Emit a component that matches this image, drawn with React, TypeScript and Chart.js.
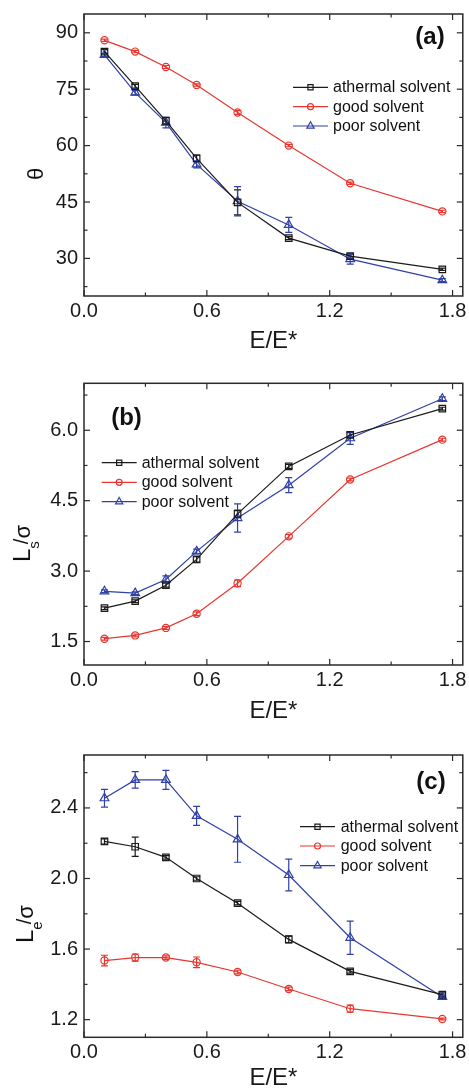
import React, { useEffect, useRef } from 'react';
import { Chart, registerables } from 'chart.js';

Chart.register(...registerables);

const FONT = 'Arial, "Liberation Sans", Helvetica, sans-serif';

// ---------- data ----------
const eRatio = [0.1, 0.25, 0.4, 0.55, 0.75, 1.0, 1.3, 1.75];
const xTickValues = [0, 0.6, 1.2, 1.8];
const seriesLabels = ['athermal solvent', 'good solvent', 'poor solvent'];

// (a) contact angle theta
const thetaAthermal = [85.0, 75.8, 66.6, 56.6, 44.9, 35.4, 30.6, 27.1];
const thetaAthermalErr = [0.5, 0.5, 0.9, 0.9, 3.3, 0.4, 0.6, 0.3];
const thetaGood = [88.0, 85.0, 80.9, 76.1, 68.8, 60.0, 50.0, 42.5];
const thetaGoodErr = [0.3, 0.3, 0.4, 0.3, 0.5, 0.3, 0.3, 0.3];
const thetaPoor = [84.1, 74.1, 66.1, 55.0, 45.2, 38.9, 29.8, 24.2];
const thetaPoorErr = [0.4, 0.6, 1.4, 0.9, 3.9, 2.0, 1.3, 0.4];
const thetaTicks = [30, 45, 60, 75, 90];

// (b) Ls / sigma
const lsAthermal = [2.21, 2.36, 2.70, 3.25, 4.22, 5.23, 5.90, 6.46];
const lsAthermalErr = [0.03, 0.03, 0.04, 0.06, 0.08, 0.04, 0.05, 0.03];
const lsGood = [1.56, 1.63, 1.79, 2.09, 2.74, 3.74, 4.95, 5.80];
const lsGoodErr = [0.03, 0.03, 0.03, 0.04, 0.07, 0.04, 0.03, 0.03];
const lsPoor = [2.57, 2.53, 2.82, 3.42, 4.13, 4.83, 5.83, 6.67];
const lsPoorErr = [0.03, 0.03, 0.08, 0.05, 0.30, 0.16, 0.13, 0.04];
const lsTicks = [1.5, 3.0, 4.5, 6.0];

// (c) Le / sigma
const leAthermal = [2.21, 2.18, 2.12, 2.00, 1.86, 1.655, 1.474, 1.342];
const leAthermalErr = [0.015, 0.054, 0.01, 0.01, 0.01, 0.02, 0.01, 0.01];
const leGood = [1.535, 1.552, 1.552, 1.525, 1.47, 1.374, 1.262, 1.204];
const leGoodErr = [0.03, 0.02, 0.01, 0.03, 0.01, 0.01, 0.02, 0.005];
const lePoor = [2.455, 2.559, 2.559, 2.355, 2.222, 2.02, 1.664, 1.329];
const lePoorErr = [0.05, 0.047, 0.054, 0.054, 0.13, 0.09, 0.094, 0.01];
const leTicks = [1.2, 1.6, 2.0, 2.4];

// ---------- styles ----------
const COLORS = ['#1a1a1a', '#e8372f', '#2f40a6'];
const STYLES = ['rect', 'circle', 'triangle'];
const RADII = [4.6, 3.6, 5.0];
const LEGEND_R = [2.6, 3.0, 4.2];

function drawMarker(ctx: CanvasRenderingContext2D, style: string, x: number, y: number, r: number) {
  ctx.beginPath();
  if (style === 'rect') ctx.rect(x - r, y - r, 2 * r, 2 * r);
  else if (style === 'circle') ctx.arc(x, y, r, 0, Math.PI * 2);
  else {
    ctx.moveTo(x, y - r);
    ctx.lineTo(x + r * 0.866, y + r * 0.5);
    ctx.lineTo(x - r * 0.866, y + r * 0.5);
    ctx.closePath();
  }
  ctx.stroke();
}

const decorPlugin = {
  id: 'decor',
  beforeDatasetsDraw(chart: any) {
    const ctx = chart.ctx as CanvasRenderingContext2D;
    const xs = chart.scales.x, ys = chart.scales.y;
    ctx.save();
    chart.data.datasets.forEach((ds: any) => {
      const errs: number[] = ds.errorBars || [];
      ctx.strokeStyle = ds.borderColor;
      ctx.lineWidth = 1.2;
      ds.data.forEach((p: any, i: number) => {
        const e = errs[i] || 0;
        if (!e) return;
        const px = xs.getPixelForValue(p.x);
        const y1 = ys.getPixelForValue(p.y + e);
        const y2 = ys.getPixelForValue(p.y - e);
        const cap = 3.5;
        ctx.beginPath();
        ctx.moveTo(px, y1); ctx.lineTo(px, y2);
        ctx.moveTo(px - cap, y1); ctx.lineTo(px + cap, y1);
        ctx.moveTo(px - cap, y2); ctx.lineTo(px + cap, y2);
        ctx.stroke();
      });
    });
    ctx.restore();
  },
  afterDraw(chart: any, _args: any, opts: any) {
    const ctx = chart.ctx as CanvasRenderingContext2D;
    const { left, right, top, bottom } = chart.chartArea;
    const xs = chart.scales.x, ys = chart.scales.y;
    const MAJ = 6, MIN = 3.5;
    ctx.save();
    // frame
    ctx.strokeStyle = '#2a2a2a';
    ctx.lineWidth = 1.5;
    ctx.strokeRect(left, top, right - left, bottom - top);
    ctx.lineWidth = 1.2;
    const line = (x1: number, y1: number, x2: number, y2: number) => {
      ctx.beginPath(); ctx.moveTo(x1, y1); ctx.lineTo(x2, y2); ctx.stroke();
    };
    // major ticks (inward, mirrored)
    xs.ticks.forEach((t: any) => {
      const px = xs.getPixelForValue(t.value);
      line(px, bottom, px, bottom - MAJ);
      line(px, top, px, top + MAJ);
    });
    ys.ticks.forEach((t: any) => {
      const py = ys.getPixelForValue(t.value);
      line(left, py, left + MAJ, py);
      line(right, py, right - MAJ, py);
    });
    // minor ticks
    const minors = (scale: any, step: number, majors: number[]) => {
      const out: number[] = [];
      const start = Math.ceil(scale.min / step - 1e-6);
      for (let k = start; k * step <= scale.max + 1e-9; k++) {
        const v = k * step;
        if (!majors.some((m) => Math.abs(m - v) < 1e-6)) out.push(v);
      }
      return out;
    };
    minors(xs, opts.xMinorStep, xs.ticks.map((t: any) => t.value)).forEach((v) => {
      const px = xs.getPixelForValue(v);
      line(px, bottom, px, bottom - MIN);
      line(px, top, px, top + MIN);
    });
    minors(ys, opts.yMinorStep, ys.ticks.map((t: any) => t.value)).forEach((v) => {
      const py = ys.getPixelForValue(v);
      line(left, py, left + MIN, py);
      line(right, py, right - MIN, py);
    });

    // legend
    const lg = opts.legend;
    ctx.font = `16px ${FONT}`;
    ctx.textBaseline = 'middle';
    ctx.textAlign = 'left';
    chart.data.datasets.forEach((ds: any, i: number) => {
      const y = lg.rows[i];
      ctx.strokeStyle = ds.borderColor;
      ctx.lineWidth = 1.2;
      line(lg.x0, y, lg.x1, y);
      drawMarker(ctx, ds.pointStyle, (lg.x0 + lg.x1) / 2, y, LEGEND_R[i]);
      ctx.fillStyle = '#111';
      ctx.fillText(ds.label, lg.textX, y + 0.5);
    });

    // panel label
    const pl = opts.panelLabel;
    ctx.font = `bold 24px ${FONT}`;
    ctx.fillStyle = '#111';
    ctx.textAlign = 'center';
    ctx.textBaseline = 'middle';
    ctx.fillText(pl.text, pl.x, pl.y);
    ctx.restore();
  },
};

function makeDatasets(vals: number[][], errs: number[][]) {
  return vals.map((v, i) => ({
    label: seriesLabels[i],
    data: eRatio.map((x, j) => ({ x, y: v[j] })),
    errorBars: errs[i],
    borderColor: COLORS[i],
    backgroundColor: 'rgba(0,0,0,0)',
    borderWidth: 1.2,
    pointStyle: STYLES[i],
    pointRadius: RADII[i],
    pointBorderWidth: 1.2,
    pointBorderColor: COLORS[i],
    pointBackgroundColor: 'rgba(0,0,0,0)',
    tension: 0,
    fill: false,
  }));
}

const panels = [
  {
    top: 0, height: 363, areaTop: 14, xAxisHeight: 67,
    yMin: 20, yMax: 95, yTicks: thetaTicks, yDecimals: 0, yMinorStep: 7.5,
    datasets: makeDatasets([thetaAthermal, thetaGood, thetaPoor], [thetaAthermalErr, thetaGoodErr, thetaPoorErr]),
    legend: { x0: 293, x1: 328, textX: 333, rows: [87.3, 106.7, 126] },
    panelLabel: { text: '(a)', x: 430, y: 37.5 },
    yTitle: { left: 24.5, top: 180, main: 'θ', mainSize: 22, sub: '', },
  },
  {
    top: 363, height: 370, areaTop: 20.3, xAxisHeight: 68,
    yMin: 1.0, yMax: 7.0, yTicks: lsTicks, yDecimals: 1, yMinorStep: 0.75,
    datasets: makeDatasets([lsAthermal, lsGood, lsPoor], [lsAthermalErr, lsGoodErr, lsPoorErr]),
    legend: { x0: 101.7, x1: 136.7, textX: 141.7, rows: [99.7, 119.3, 138.7] },
    panelLabel: { text: '(b)', x: 126.5, y: 55 },
    yTitle: { left: 9.7, top: 199, main: 'L', mainSize: 24, sub: 's' },
  },
  {
    top: 733, height: 367, areaTop: 22, xAxisHeight: 62.7,
    yMin: 1.1, yMax: 2.7, yTicks: leTicks, yDecimals: 1, yMinorStep: 0.2,
    datasets: makeDatasets([leAthermal, leGood, lePoor], [leAthermalErr, leGoodErr, lePoorErr]),
    legend: { x0: 300, x1: 335, textX: 340.7, rows: [93.7, 113, 132.7] },
    panelLabel: { text: '(c)', x: 431, y: 49.5 },
    yTitle: { left: 12.7, top: 209.5, main: 'L', mainSize: 24, sub: 'e' },
  },
];

function buildConfig(p: any): any {
  return {
    type: 'line',
    data: { datasets: p.datasets },
    plugins: [decorPlugin],
    options: {
      responsive: false,
      animation: false,
      devicePixelRatio: 1,
      layout: { padding: { top: p.areaTop, right: 5, left: 0, bottom: 0 } },
      plugins: {
        legend: { display: false },
        title: { display: false },
        tooltip: { enabled: false },
        decor: {
          xMinorStep: 0.3,
          yMinorStep: p.yMinorStep,
          legend: p.legend,
          panelLabel: p.panelLabel,
        },
      },
      scales: {
        x: {
          type: 'linear',
          min: 0,
          max: 1.85,
          afterBuildTicks: (s: any) => { s.ticks = xTickValues.map((v) => ({ value: v })); },
          afterFit: (s: any) => { s.height = p.xAxisHeight; s.paddingLeft = 0; s.paddingRight = 0; },
          grid: { display: false, drawTicks: false },
          border: { display: false },
          ticks: {
            padding: 3,
            autoSkip: false,
            maxRotation: 0,
            color: '#1a1a1a',
            font: { size: 20, family: FONT },
            callback: (v: any) => Number(v).toFixed(1),
          },
          title: {
            display: true,
            text: 'E/E*',
            color: '#1a1a1a',
            font: { size: 24, family: FONT },
            padding: { top: 0, bottom: 7.6 },
          },
        },
        y: {
          type: 'linear',
          min: p.yMin,
          max: p.yMax,
          afterBuildTicks: (s: any) => { s.ticks = p.yTicks.map((v: number) => ({ value: v })); },
          afterFit: (s: any) => { s.width = 84; s.paddingTop = 0; s.paddingBottom = 0; },
          grid: { display: false, drawTicks: false },
          border: { display: false },
          ticks: {
            padding: 6,
            autoSkip: false,
            color: '#1a1a1a',
            font: { size: 20, family: FONT },
            callback: (v: any) => Number(v).toFixed(p.yDecimals),
          },
          title: { display: false },
        },
      },
    },
  };
}

function YTitle({ t }: { t: any }) {
  return (
    <div
      style={{
        position: 'absolute',
        left: t.left,
        top: t.top,
        transform: 'rotate(-90deg)',
        transformOrigin: '0 0',
        whiteSpace: 'nowrap',
        lineHeight: 1,
        fontFamily: FONT,
        fontSize: t.mainSize,
        color: '#111',
        pointerEvents: 'none',
      }}
    >
      <span>{t.main}</span>
      {t.sub ? (
        <>
          <span style={{ fontSize: 15, position: 'relative', top: 9 }}>{t.sub}</span>
          <span style={{ fontSize: 20, position: 'relative', top: -2, marginLeft: -3 }}>/</span>
          <span style={{ fontSize: 22 }}>σ</span>
        </>
      ) : null}
    </div>
  );
}

function Panel({ cfg }: { cfg: any }) {
  const ref = useRef<HTMLCanvasElement>(null);
  useEffect(() => {
    const chart = new Chart(ref.current as HTMLCanvasElement, buildConfig(cfg));
    return () => chart.destroy();
  }, [cfg]);
  return (
    <div style={{ position: 'absolute', left: 0, top: cfg.top, width: 469, height: cfg.height }}>
      <canvas ref={ref} width={469} height={cfg.height} style={{ display: 'block', width: 469, height: cfg.height }} />
      <YTitle t={cfg.yTitle} />
    </div>
  );
}

export default function App() {
  return (
    <div style={{ position: 'absolute', left: 0, top: 0, width: 469, height: 1089, overflow: 'hidden', background: '#fff' }}>
      {panels.map((p, i) => (
        <Panel key={i} cfg={p} />
      ))}
    </div>
  );
}
